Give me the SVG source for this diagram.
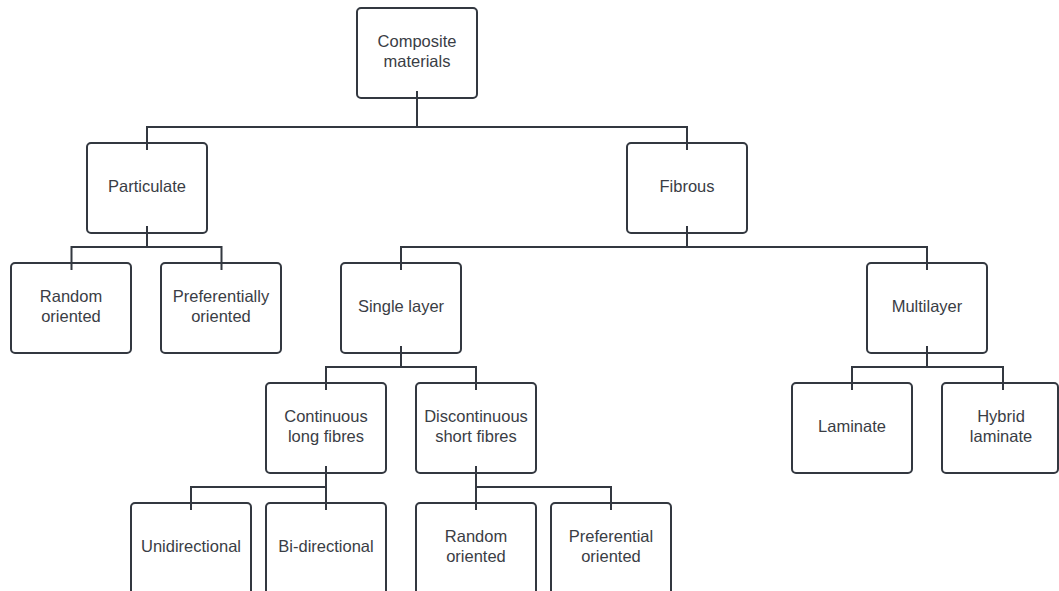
<svg xmlns="http://www.w3.org/2000/svg" width="1059" height="591" viewBox="0 0 1059 591">
<style>
.box{fill:#ffffff;stroke:#333840;stroke-width:2}
.t{font-family:"Liberation Sans",Arial,sans-serif;font-size:16.5px;fill:#3a3d45;text-anchor:middle}
.c{fill:none;stroke:#333840;stroke-width:2}
</style>
<rect width="1059" height="591" fill="#ffffff"/>
<g id="n-composite"><rect class="box" x="357" y="8" width="120" height="90" rx="4"/><text class="t" x="417" y="47">Composite</text><text class="t" x="417" y="67">materials</text></g>
<g id="n-particulate"><rect class="box" x="87" y="143" width="120" height="90" rx="4"/><text class="t" x="147" y="192">Particulate</text></g>
<g id="n-fibrous"><rect class="box" x="627" y="143" width="120" height="90" rx="4"/><text class="t" x="687" y="192">Fibrous</text></g>
<g id="n-random1"><rect class="box" x="11" y="263" width="120" height="90" rx="4"/><text class="t" x="71" y="302">Random</text><text class="t" x="71" y="322">oriented</text></g>
<g id="n-pref1"><rect class="box" x="161" y="263" width="120" height="90" rx="4"/><text class="t" x="221" y="302">Preferentially</text><text class="t" x="221" y="322">oriented</text></g>
<g id="n-single"><rect class="box" x="341" y="263" width="120" height="90" rx="4"/><text class="t" x="401" y="312">Single layer</text></g>
<g id="n-multi"><rect class="box" x="867" y="263" width="120" height="90" rx="4"/><text class="t" x="927" y="312">Multilayer</text></g>
<g id="n-continuous"><rect class="box" x="266" y="383" width="120" height="90" rx="4"/><text class="t" x="326" y="422">Continuous</text><text class="t" x="326" y="442">long fibres</text></g>
<g id="n-discontinuous"><rect class="box" x="416" y="383" width="120" height="90" rx="4"/><text class="t" x="476" y="422">Discontinuous</text><text class="t" x="476" y="442">short fibres</text></g>
<g id="n-laminate"><rect class="box" x="792" y="383" width="120" height="90" rx="4"/><text class="t" x="852" y="432">Laminate</text></g>
<g id="n-hybrid"><rect class="box" x="942" y="383" width="116" height="90" rx="4"/><text class="t" x="1001" y="422">Hybrid</text><text class="t" x="1001" y="442">laminate</text></g>
<g id="n-uni"><rect class="box" x="131" y="503" width="120" height="92" rx="4"/><text class="t" x="191" y="552">Unidirectional</text></g>
<g id="n-bi"><rect class="box" x="266" y="503" width="120" height="92" rx="4"/><text class="t" x="326" y="552">Bi-directional</text></g>
<g id="n-random2"><rect class="box" x="416" y="503" width="120" height="92" rx="4"/><text class="t" x="476" y="542">Random</text><text class="t" x="476" y="562">oriented</text></g>
<g id="n-pref2"><rect class="box" x="551" y="503" width="120" height="92" rx="4"/><text class="t" x="611" y="542">Preferential</text><text class="t" x="611" y="562">oriented</text></g>
<g id="connectors">
<path class="c" d="M417 91V127M147 150V127H687V150"/>
<path class="c" d="M147 226V247M71.5 270V247H221.5V270"/>
<path class="c" d="M687 226V247M401 270V247H927V270"/>
<path class="c" d="M401 346V367M326 390V367H476V390"/>
<path class="c" d="M927 346V367M852 390V367H1003V390"/>
<path class="c" d="M326 466V510M191 510V487H326"/>
<path class="c" d="M476 466V510M476 487H611V510"/>
</g>
</svg>
